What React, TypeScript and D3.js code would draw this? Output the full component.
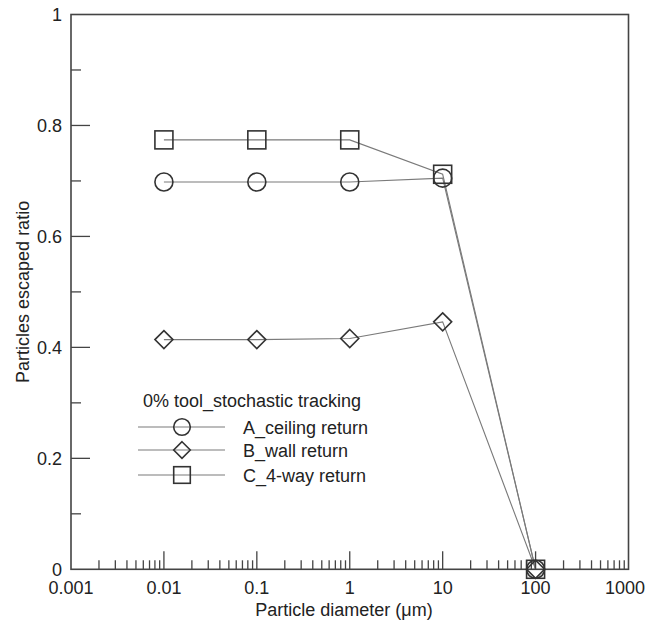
import React from "react";
import * as d3 from "d3";

const diameters = [0.01, 0.1, 1, 10, 100];
const ceilingReturn = [0.698, 0.698, 0.698, 0.705, 0];
const wallReturn = [0.414, 0.414, 0.416, 0.446, 0];
const fourWayReturn = [0.774, 0.774, 0.774, 0.712, 0];
const seriesNames = ["A_ceiling return", "B_wall return", "C_4-way return"];
const seriesShapes = ["circle", "diamond", "square"];
const xTickLabels = ["0.001", "0.01", "0.1", "1", "10", "100", "1000"];
const yTickLabels = ["0", "0.2", "0.4", "0.6", "0.8", "1"];
const legendTitle = "0% tool_stochastic tracking";

const W = 646;
const H = 626;
const L = 71;
const R = 628.5;
const T = 14.5;
const B = 569.3;
const FONT = "'Liberation Sans', Arial, Helvetica, sans-serif";

function Marker({ shape, x, y, s = 9 }: { shape: string; x: number; y: number; s?: number }) {
  const common = { fill: "none", stroke: "#333", strokeWidth: 1.6 };
  if (shape === "circle") return <circle cx={x} cy={y} r={s} {...common} />;
  if (shape === "square")
    return <rect x={x - s} y={y - s} width={2 * s} height={2 * s} {...common} />;
  return (
    <path
      d={`M${x},${y - s}L${x + s},${y}L${x},${y + s}L${x - s},${y}Z`}
      {...common}
    />
  );
}

export default function App() {
  const x = d3.scaleLog().domain([0.001, 1000]).range([L, R]);
  const y = d3.scaleLinear().domain([0, 1]).range([B, T]);
  const series = [ceilingReturn, wallReturn, fourWayReturn];
  const line = d3
    .line<[number, number]>()
    .x((d) => x(d[0]))
    .y((d) => y(d[1]));

  const majorX = xTickLabels.map((t) => +t);
  const minorX: number[] = [];
  for (let e = -3; e < 3; e++)
    for (let m = 2; m <= 9; m++) minorX.push(m * Math.pow(10, e));
  const majorY = yTickLabels.map((t) => +t);
  const minorY = [0.1, 0.3, 0.5, 0.7, 0.9];

  const legendRows = [427, 450, 475];
  const legX1 = 138;
  const legX2 = 225;
  const legMid = 182;

  return (
    <svg
      width={W}
      height={H}
      style={{ position: "absolute", left: 0, top: 0, background: "#fff" }}
      fontFamily={FONT}
    >
      <rect x={0} y={0} width={W} height={H} fill="#fff" />
      {/* data lines */}
      {series.map((vals, i) => (
        <path
          key={"l" + i}
          d={line(diameters.map((d, j) => [d, vals[j]]) as [number, number][]) || ""}
          fill="none"
          stroke="#7a7a7a"
          strokeWidth={1.1}
        />
      ))}
      {/* ticks */}
      {majorX.slice(1, -1).map((v) => (
        <line key={"mx" + v} x1={x(v)} x2={x(v)} y1={B} y2={B - 18} stroke="#444" strokeWidth={1.3} />
      ))}
      {minorX.map((v, i) => (
        <line key={"nx" + i} x1={x(v)} x2={x(v)} y1={B} y2={B - 9} stroke="#444" strokeWidth={1.3} />
      ))}
      {majorY.slice(1, -1).map((v) => (
        <line key={"my" + v} x1={L} x2={L + 19} y1={y(v)} y2={y(v)} stroke="#444" strokeWidth={1.3} />
      ))}
      {minorY.map((v) => (
        <line key={"ny" + v} x1={L} x2={L + 10} y1={y(v)} y2={y(v)} stroke="#444" strokeWidth={1.3} />
      ))}
      {/* frame */}
      <rect x={L} y={T} width={R - L} height={B - T} fill="none" stroke="#444" strokeWidth={1.6} />
      {/* markers */}
      {series.map((vals, i) =>
        diameters.map((d, j) => (
          <Marker key={"m" + i + "-" + j} shape={seriesShapes[i]} x={x(d)} y={y(vals[j])} />
        ))
      )}
      {/* tick labels */}
      {xTickLabels.map((t, i) => {
        const last = i === xTickLabels.length - 1;
        return (
          <text
            key={"xt" + t}
            x={last ? W - 1 : x(+t)}
            y={594}
            textAnchor={last ? "end" : "middle"}
            fontSize={18}
            fill="#222"
          >
            {t}
          </text>
        );
      })}
      {yTickLabels.map((t) => (
        <text key={"yt" + t} x={62} y={y(+t) + 6.5} textAnchor="end" fontSize={18} fill="#222">
          {t}
        </text>
      ))}
      {/* axis titles */}
      <text x={344} y={616} textAnchor="middle" fontSize={18} fill="#222">
        Particle diameter (μm)
      </text>
      <text
        transform={`translate(29,${(T + B) / 2}) rotate(-90)`}
        textAnchor="middle"
        fontSize={18}
        fill="#222"
      >
        Particles escaped ratio
      </text>
      {/* legend */}
      <text x={143} y={407} fontSize={18} fill="#222">
        {legendTitle}
      </text>
      {seriesNames.map((name, i) => (
        <g key={"lg" + i}>
          <line x1={legX1} x2={legX2} y1={legendRows[i]} y2={legendRows[i]} stroke="#7a7a7a" strokeWidth={1.1} />
          <Marker shape={seriesShapes[i]} x={legMid} y={legendRows[i]} s={8.3} />
          <text x={243} y={legendRows[i] + 6.5} fontSize={18} fill="#222">
            {name}
          </text>
        </g>
      ))}
    </svg>
  );
}
